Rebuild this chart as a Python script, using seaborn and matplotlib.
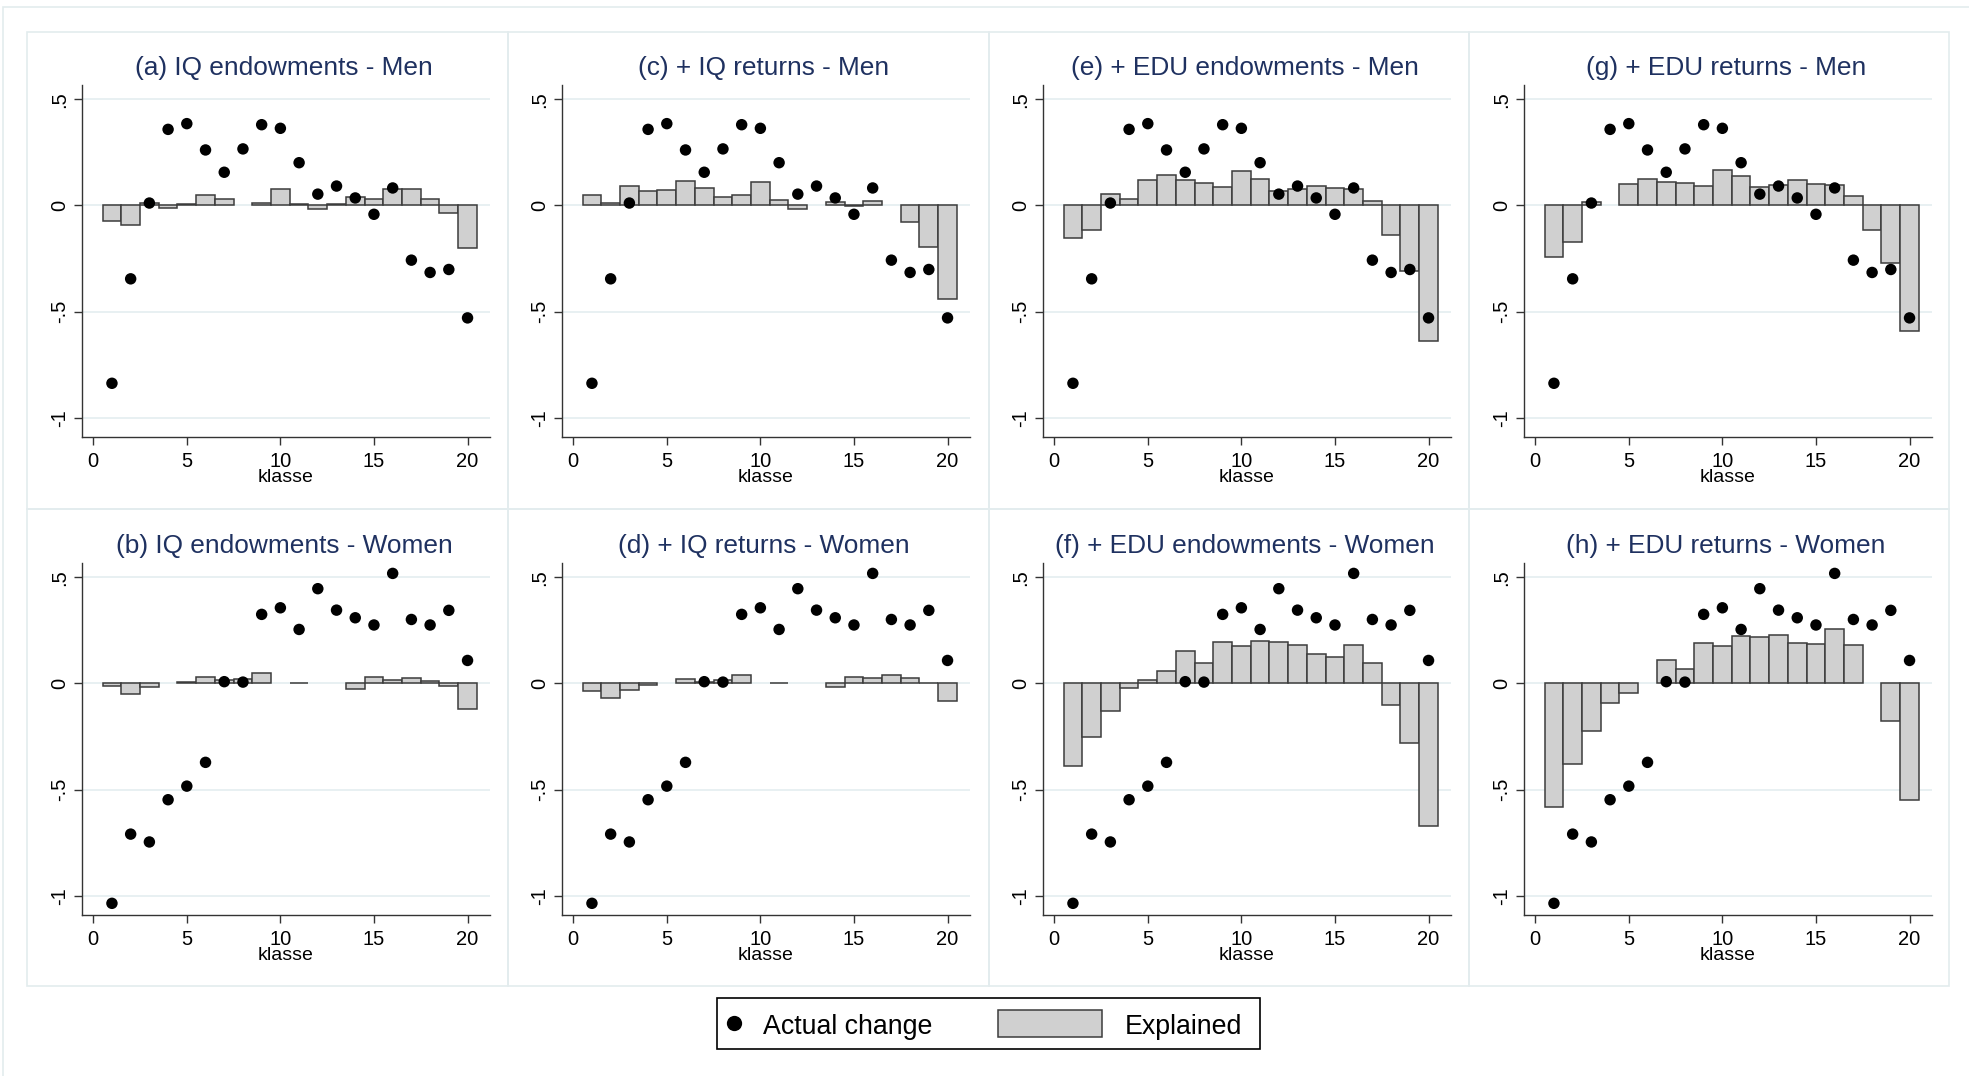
import numpy as np
import pandas as pd
import matplotlib
matplotlib.use("Agg")
import matplotlib.pyplot as plt
from matplotlib.patches import Rectangle
from matplotlib.lines import Line2D
import seaborn as sns

# DATA
klasse = list(range(1, 21))

actual_men = [-0.838, -0.346, 0.011, 0.358, 0.385, 0.261, 0.156, 0.266, 0.380, 0.363,
              0.201, 0.053, 0.091, 0.035, -0.042, 0.082, -0.258, -0.316, -0.302, -0.530]
actual_women = [-1.036, -0.710, -0.747, -0.548, -0.484, -0.372, 0.008, 0.006, 0.325, 0.356,
                0.254, 0.446, 0.345, 0.309, 0.275, 0.518, 0.301, 0.275, 0.344, 0.108]

nan = np.nan
iq_endow_men = [-0.074, -0.091, 0.009, -0.011, 0.006, 0.047, 0.030, nan, 0.011, 0.079,
                0.006, -0.016, 0.006, 0.039, 0.028, 0.077, 0.077, 0.030, -0.036, -0.201]
iq_returns_men = [0.049, 0.009, 0.093, 0.069, 0.071, 0.115, 0.083, 0.039, 0.049, 0.108,
                  0.025, -0.017, nan, 0.016, -0.003, 0.020, nan, -0.079, -0.197, -0.442]
edu_endow_men = [-0.156, -0.116, 0.053, 0.031, 0.121, 0.142, 0.119, 0.104, 0.085, 0.162,
                 0.124, 0.069, 0.079, 0.093, 0.080, 0.077, 0.020, -0.140, -0.307, -0.638]
edu_returns_men = [-0.242, -0.171, 0.016, nan, 0.099, 0.124, 0.110, 0.107, 0.091, 0.167,
                   0.137, 0.085, 0.094, 0.119, 0.101, 0.096, 0.044, -0.116, -0.270, -0.590]

iq_endow_women = [-0.014, -0.049, -0.017, nan, 0.006, 0.030, 0.016, 0.022, 0.047, nan,
                  0.003, nan, nan, -0.025, 0.028, 0.017, 0.025, 0.009, -0.014, -0.122]
iq_returns_women = [-0.038, -0.068, -0.030, -0.008, nan, 0.020, 0.008, 0.017, 0.041, nan,
                    0.003, nan, nan, -0.017, 0.031, 0.025, 0.038, 0.025, 0.003, -0.085]
edu_endow_women = [-0.391, -0.253, -0.132, -0.020, 0.014, 0.060, 0.152, 0.097, 0.193, 0.176,
                   0.199, 0.195, 0.182, 0.138, 0.124, 0.181, 0.097, -0.100, -0.283, -0.673]
edu_returns_women = [-0.582, -0.381, -0.226, -0.094, -0.047, nan, 0.111, 0.068, 0.192, 0.177,
                     0.223, 0.220, 0.228, 0.188, 0.187, 0.256, 0.181, nan, -0.179, -0.548]

titles_men = ["(a) IQ endowments - Men", "(c) + IQ returns - Men",
              "(e) + EDU endowments - Men", "(g) + EDU returns - Men"]
titles_women = ["(b) IQ endowments - Women", "(d) + IQ returns - Women",
                "(f) + EDU endowments - Women", "(h) + EDU returns - Women"]

explained_men = [iq_endow_men, iq_returns_men, edu_endow_men, edu_returns_men]
explained_women = [iq_endow_women, iq_returns_women, edu_endow_women, edu_returns_women]

xticks = [0, 5, 10, 15, 20]
yticks = [-1, -0.5, 0, 0.5]
ytick_labels = ["-1", "-.5", "0", ".5"]

# STYLE
sns.set_theme(style="white")
plt.rcParams["font.family"] = ["Liberation Sans", "DejaVu Sans"]

W, H = 1969, 1076
fig = plt.figure(figsize=(W / 100, H / 100), dpi=100)
fig.patch.set_facecolor("white")

BAR_FILL = "#d0d0d0"
BAR_EDGE = "#3c3c3c"
GRID = "#e6eff1"
FRAME = "#e3ecee"
TITLE_COLOR = "#1f3160"


def fx(px):
    return px / W


def fy(py):
    return 1 - py / H


# FRAMES AROUND THE GRAPH AND EACH CELL
fig.add_artist(Rectangle((fx(3), fy(1090)), fx(2000), fy(7) - fy(1090),
                         transform=fig.transFigure, fill=False, edgecolor=FRAME, lw=1.2))
col_edges = [27, 508, 989, 1469, 1949]
row_edges = [32, 509, 986]
for r in range(2):
    for c in range(4):
        x0, x1 = col_edges[c], col_edges[c + 1]
        y0, y1 = row_edges[r], row_edges[r + 1]
        fig.add_artist(Rectangle((fx(x0), fy(y1)), fx(x1 - x0), fy(y0) - fy(y1),
                                 transform=fig.transFigure, fill=False,
                                 edgecolor=FRAME, lw=1.2))

ax_lefts = [82, 562, 1043, 1524]
ax_width = 408
row_tops = [85, 563]
ax_height = 352


def draw_panel(ax, explained, actual, title):
    df = pd.DataFrame({"klasse": klasse, "explained": explained, "actual": actual})
    bars = df.dropna(subset=["explained"])

    ax.grid(False)
    for yv in yticks:
        ax.axhline(yv, color=GRID, lw=1.3, zorder=0)

    sns.barplot(data=bars, x="klasse", y="explained", native_scale=True, width=1,
                color=BAR_FILL, saturation=1, edgecolor=BAR_EDGE, linewidth=1.1,
                errorbar=None, ax=ax, zorder=2)
    sns.scatterplot(data=df, x="klasse", y="actual", color="black", s=68,
                    edgecolor="none", ax=ax, zorder=3, legend=False)

    ax.set_xlim(-0.6, 21.2)
    ax.set_ylim(-1.091, 0.567)
    ax.set_xticks(xticks)
    ax.set_xticklabels([str(t) for t in xticks])
    ax.set_yticks(yticks)
    ax.set_yticklabels(ytick_labels, rotation=90, va="center")
    ax.tick_params(axis="both", which="major", length=6, width=1.0, color="#333333",
                   labelsize=14.5, labelcolor="black", direction="out",
                   bottom=True, left=True)
    ax.tick_params(axis="x", pad=5)
    ax.tick_params(axis="y", pad=3)
    for side in ["top", "right"]:
        ax.spines[side].set_visible(False)
    for side in ["left", "bottom"]:
        ax.spines[side].set_color("#333333")
        ax.spines[side].set_linewidth(1.0)
    ax.set_xlabel("klasse", fontsize=14, labelpad=-2, color="black")
    ax.set_ylabel("")
    ax.set_facecolor("white")


for r, (explained_set, actual, titles) in enumerate(
        [(explained_men, actual_men, titles_men),
         (explained_women, actual_women, titles_women)]):
    top = row_tops[r]
    for c in range(4):
        left = ax_lefts[c]
        ax = fig.add_axes([fx(left), fy(top + ax_height), fx(ax_width), ax_height / H])
        draw_panel(ax, explained_set[c], actual, titles[c])
        fig.text(fx(left + ax_width / 2 - 2), fy(top - 17), titles[c], ha="center",
                 va="center", fontsize=18.9, color=TITLE_COLOR)

# LEGEND (DRAWN BY HAND TO MATCH THE STATA LAYOUT)
fig.add_artist(Rectangle((fx(717), fy(1049)), fx(543), fy(998) - fy(1049),
                         transform=fig.transFigure, facecolor="white",
                         edgecolor="black", lw=1.2))
fig.add_artist(Line2D([fx(734)], [fy(1023)], marker="o", markersize=11,
                      color="black", markeredgecolor="none", transform=fig.transFigure))
fig.text(fx(763), fy(1034), "Actual change", ha="left", va="baseline",
         fontsize=19.3, color="black")
fig.add_artist(Rectangle((fx(998), fy(1037)), fx(104), fy(1010) - fy(1037),
                         transform=fig.transFigure, facecolor=BAR_FILL,
                         edgecolor=BAR_EDGE, lw=1.1))
fig.text(fx(1125), fy(1034), "Explained", ha="left", va="baseline",
         fontsize=19.3, color="black")

fig.savefig("out.png", dpi=100)
